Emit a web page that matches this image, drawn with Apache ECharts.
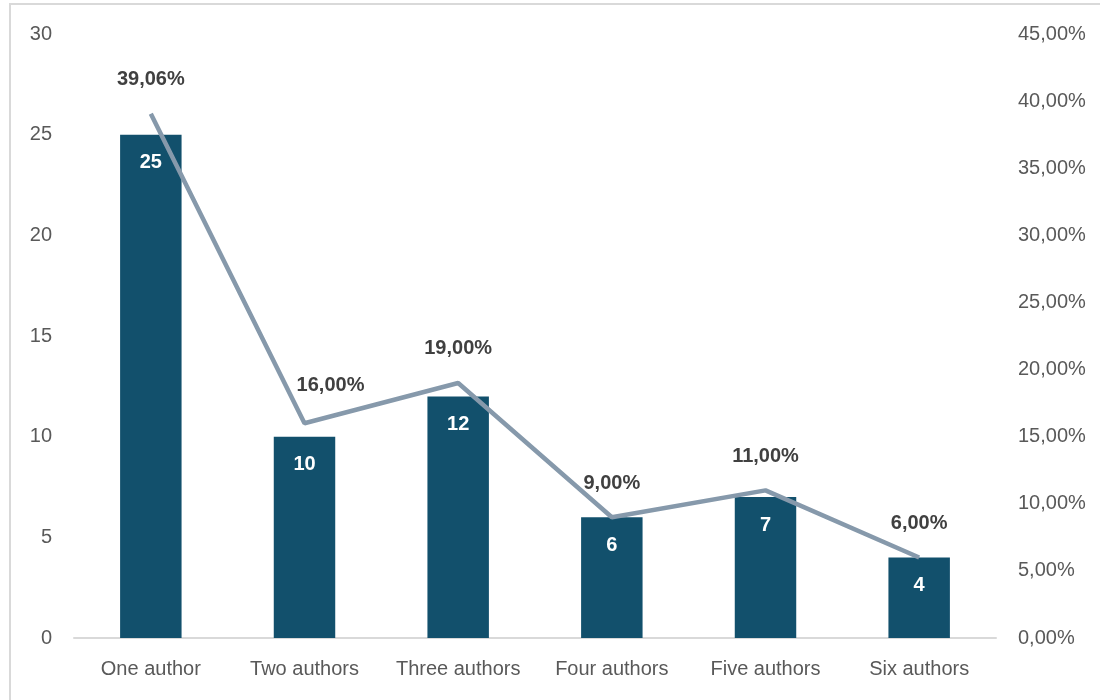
<!DOCTYPE html>
<html>
<head>
<meta charset="utf-8">
<script src="https://cdn.jsdelivr.net/npm/echarts@6/dist/echarts.min.js"></script>
<style>
  html, body { margin: 0; padding: 0; background: #fff; }
  #chart { width: 1100px; height: 700px; }
</style>
</head>
<body>
<div id="chart"></div>
<script>
// Number of papers by authorship size, with share of total
const categories = ['One author', 'Two authors', 'Three authors', 'Four authors', 'Five authors', 'Six authors'];
const paperCounts = [25, 10, 12, 6, 7, 4];
const sharePercent = [39.06, 16.00, 19.00, 9.00, 11.00, 6.00];
const countTicks = { min: 0, max: 30, interval: 5 };
const shareTicks = { min: 0, max: 45, interval: 5 };

const pct = v => Number(v).toFixed(2).replace('.', ',') + '%';
const font = '"Liberation Sans", Arial, sans-serif';

const chart = echarts.init(document.getElementById('chart'), null, { renderer: 'canvas' });

const lineData = sharePercent.map((v, i) => {
  const item = { value: v };
  if (i === 1) item.label = { offset: [26, -4] };
  return item;
});

chart.setOption({
  animation: false,
  backgroundColor: '#ffffff',
  graphic: [{
    // chart frame (left and top edges visible)
    type: 'rect',
    shape: { x: 10, y: 4, width: 1100, height: 720 },
    style: { fill: 'none', stroke: '#d9d9d9', lineWidth: 2 },
    silent: true
  }],
  grid: { left: 74, right: 104, top: 34, bottom: 62, containLabel: false },
  xAxis: {
    type: 'category',
    data: categories,
    axisLine: { show: true, lineStyle: { color: '#d9d9d9', width: 2 } },
    axisTick: { show: false },
    axisLabel: { interval: 0, color: '#595959', fontSize: 20, fontFamily: font, margin: 21 }
  },
  yAxis: [{
    type: 'value',
    min: countTicks.min, max: countTicks.max, interval: countTicks.interval,
    splitLine: { show: false },
    axisLine: { show: false },
    axisTick: { show: false },
    axisLabel: { color: '#595959', fontSize: 20, fontFamily: font, margin: 22 }
  }, {
    type: 'value',
    position: 'right',
    min: shareTicks.min, max: shareTicks.max, interval: shareTicks.interval,
    splitLine: { show: false },
    axisLine: { show: false },
    axisTick: { show: false },
    axisLabel: { color: '#595959', fontSize: 20, fontFamily: font, margin: 22, formatter: pct }
  }],
  series: [{
    name: 'Papers',
    type: 'bar',
    data: paperCounts,
    barWidth: '40%',
    itemStyle: { color: '#12506c' },
    label: {
      show: true, position: 'insideTop', distance: 18,
      color: '#ffffff', fontWeight: 'bold', fontSize: 20, fontFamily: font
    }
  }, {
    name: 'Share',
    type: 'line',
    yAxisIndex: 1,
    data: lineData,
    symbol: 'circle',
    symbolSize: 0,
    showSymbol: true,
    lineStyle: { color: '#8699ab', width: 4.5 },
    itemStyle: { color: '#8699ab' },
    label: {
      show: true, position: 'top', distance: 24,
      color: '#404040', fontWeight: 'bold', fontSize: 20, fontFamily: font,
      formatter: p => pct(p.value)
    },
    z: 5
  }]
});
</script>
</body>
</html>
